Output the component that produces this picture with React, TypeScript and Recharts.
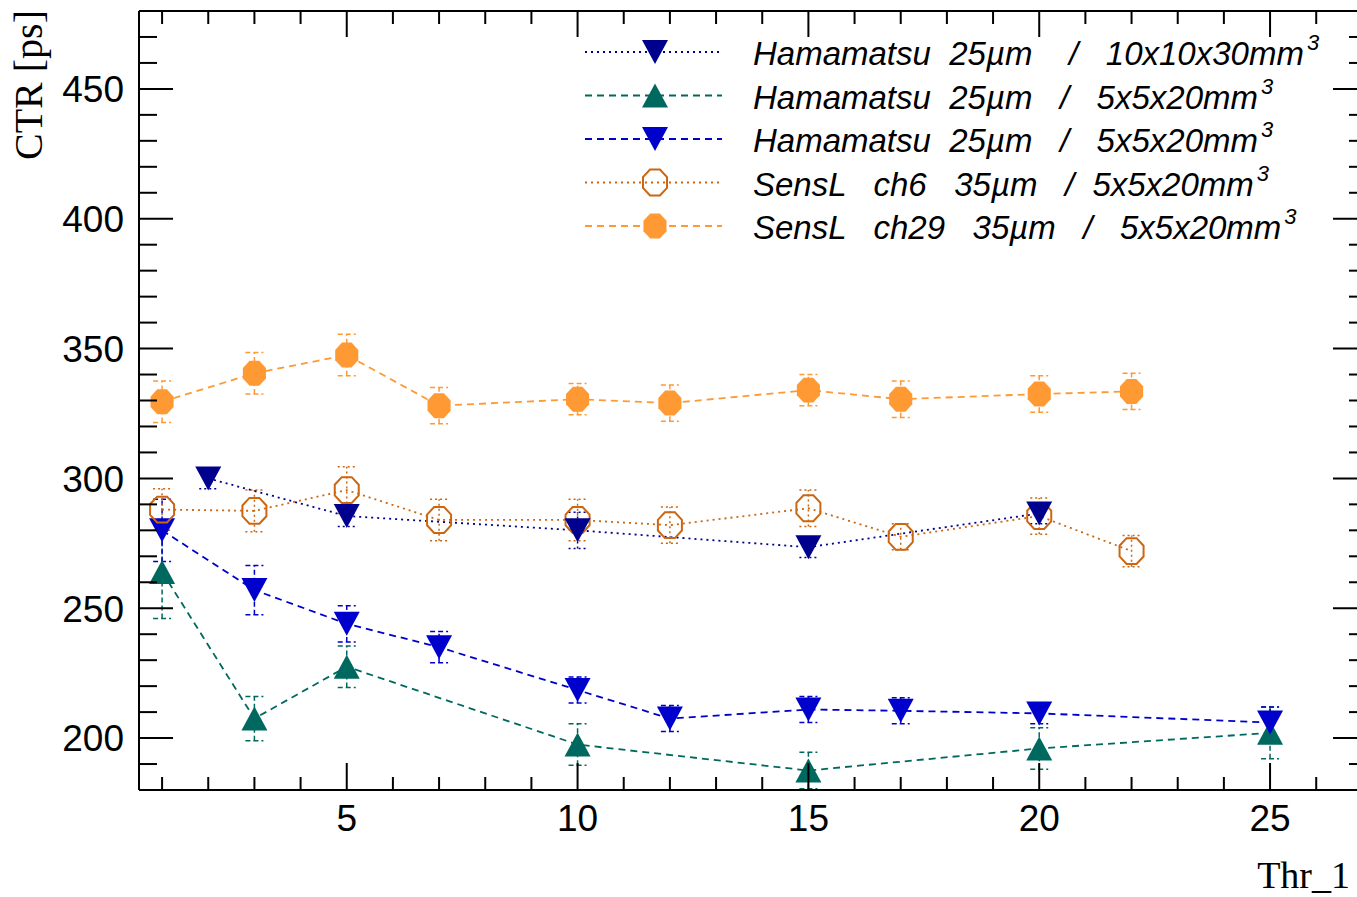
import { ErrorBar, Legend, Line, LineChart, XAxis, YAxis } from "recharts"

// axis ticks
const xTicks = [1, 2, 3, 4, 5, 6, 7, 8, 9, 10, 11, 12, 13, 14, 15, 16, 17, 18, 19, 20, 21, 22, 23, 24, 25, 26, 27]
const xLabels = [5, 10, 15, 20, 25]
const yTicks = [190, 200, 210, 220, 230, 240, 250, 260, 270, 280, 290, 300, 310, 320, 330, 340, 350, 360, 370, 380, 390, 400, 410, 420, 430, 440, 450, 460, 470]
const yLabels = [200, 250, 300, 350, 400, 450]

// Hamamatsu 25um / 10x10x30
const hamaBigThr = [2, 5, 10, 15, 20]
const hamaBigCtr = [300, 285.5, 280, 273.5, 286.5]
const hamaBigErr = [4, 4, 7, 4, 4]

// Hamamatsu 25um / 5x5x20 (teal)
const hamaTealThr = [1, 3, 5, 10, 15, 20, 25]
const hamaTealCtr = [264, 207.5, 227.5, 197.5, 187.5, 196, 202]
const hamaTealErr = [18, 8.5, 8, 8, 7, 8, 10]

// Hamamatsu 25um / 5x5x20 (blue)
const hamaBlueThr = [1, 3, 5, 7, 10, 12, 15, 17, 20, 25]
const hamaBlueCtr = [280, 257, 244, 235, 218.5, 207.5, 211, 210.5, 209.5, 206]
const hamaBlueErr = [12, 9.5, 7, 6, 5, 5, 5, 5, 4, 6]

// SensL ch6
const ch6Thr = [1, 3, 5, 7, 10, 12, 15, 17, 20, 22]
const ch6Ctr = [288, 287.5, 295.5, 284, 284, 282, 288.5, 277.5, 285.5, 272]
const ch6Err = [8, 8, 9, 8, 8, 7, 7, 5, 7, 6]

// SensL ch29
const ch29Thr = [1, 3, 5, 7, 10, 12, 15, 17, 20, 22]
const ch29Ctr = [329.5, 340.5, 347.5, 328, 330.5, 329, 334, 330.5, 332.5, 333.5]
const ch29Err = [8, 8, 8, 7, 6, 7, 6, 7, 7, 7]

const names = [
  "Hamamatsu  25µm    /   10x10x30mm³",
  "Hamamatsu  25µm   /   5x5x20mm³",
  "Hamamatsu  25µm   /   5x5x20mm³",
  "SensL   ch6   35µm   /  5x5x20mm³",
  "SensL   ch29   35µm   /   5x5x20mm³",
]

const pts = (xs: number[], ys: number[], es: number[]) => xs.map((x, i) => ({ x, y: ys[i], err: es[i] }))

type Marker = "down" | "up" | "open" | "full"

const series = [
  { name: names[0], color: "#00008f", dash: "2 4", marker: "down" as Marker, data: pts(hamaBigThr, hamaBigCtr, hamaBigErr) },
  { name: names[1], color: "#00695f", dash: "7 5", marker: "up" as Marker, data: pts(hamaTealThr, hamaTealCtr, hamaTealErr) },
  { name: names[2], color: "#0000cc", dash: "7 5", marker: "down" as Marker, data: pts(hamaBlueThr, hamaBlueCtr, hamaBlueErr) },
  { name: names[3], color: "#cc6611", dash: "2 4", marker: "open" as Marker, data: pts(ch6Thr, ch6Ctr, ch6Err) },
  { name: names[4], color: "#ff9933", dash: "7 5", marker: "full" as Marker, data: pts(ch29Thr, ch29Ctr, ch29Err) },
]

// draw order like the original (navy on top)
const drawOrder = [1, 2, 3, 4, 0]

const sans = "'Liberation Sans', Arial, sans-serif"
const serif = "'Liberation Serif', 'Times New Roman', serif"

function octagon(cx: number, cy: number, rx: number, ry: number) {
  const p: string[] = []
  for (let k = 0; k < 8; k++) {
    const a = (Math.PI / 8) * (2 * k + 1)
    p.push(`${cx + rx * Math.cos(a)},${cy + ry * Math.sin(a)}`)
  }
  return p.join(" ")
}

function MarkerShape({ cx, cy, type, color }: { cx: number; cy: number; type: Marker; color: string }) {
  if (cx == null || cy == null) return null
  if (type === "down")
    return <polygon points={`${cx - 13},${cy - 12} ${cx + 13},${cy - 12} ${cx},${cy + 12}`} fill={color} />
  if (type === "up")
    return <polygon points={`${cx - 13},${cy + 12} ${cx + 13},${cy + 12} ${cx},${cy - 12}`} fill={color} />
  if (type === "open")
    return <polygon points={octagon(cx, cy, 13, 14)} fill="none" stroke={color} strokeWidth={2} />
  return <polygon points={octagon(cx, cy, 12.5, 13.5)} fill={color} />
}

const LeftTick = (p: any) => {
  const v = p.payload.value
  const major = yLabels.includes(v)
  return (
    <g>
      <line x1={p.x} x2={p.x + (major ? 34 : 18)} y1={p.y} y2={p.y} stroke="#000" strokeWidth={2} />
      {major && (
        <text x={p.x - 15} y={p.y} dy="0.36em" textAnchor="end" fontSize={37} fontFamily={sans} fill="#000">
          {v}
        </text>
      )}
    </g>
  )
}

const RightTick = (p: any) => {
  const major = yLabels.includes(p.payload.value)
  return <line x1={p.x} x2={p.x - (major ? 34 : 18)} y1={p.y} y2={p.y} stroke="#000" strokeWidth={2} />
}

const BottomTick = (p: any) => {
  const v = p.payload.value
  const major = xLabels.includes(v)
  return (
    <g>
      <line x1={p.x} x2={p.x} y1={p.y} y2={p.y - (major ? 27 : 13)} stroke="#000" strokeWidth={2} />
      {major && (
        <text x={p.x} y={p.y + 41} textAnchor="middle" fontSize={37} fontFamily={sans} fill="#000">
          {v}
        </text>
      )}
    </g>
  )
}

const TopTick = (p: any) => {
  const major = xLabels.includes(p.payload.value)
  return <line x1={p.x} x2={p.x} y1={p.y} y2={p.y + (major ? 26 : 13)} stroke="#000" strokeWidth={2} />
}

const rowY = [52, 95.5, 139, 182.5, 226]

function LegendBox() {
  return (
    <svg width={1400} height={897} style={{ position: "absolute", left: 0, top: 0, pointerEvents: "none" }}>
      {series.map((s, i) => {
        const y = rowY[i]
        const base = s.name.endsWith("³") ? s.name.slice(0, -1) : s.name
        return (
          <g key={i}>
            <line x1={585} x2={722} y1={y} y2={y} stroke={s.color} strokeWidth={1.8} strokeDasharray={s.dash} />
            <MarkerShape cx={655} cy={y} type={s.marker} color={s.color} />
            <text x={753} y={y + 13} fontSize={33} fontStyle="italic" fontFamily={sans} fill="#000" xmlSpace="preserve" style={{ whiteSpace: "pre" }}>
              {base}
              {s.name.endsWith("³") && (
                <tspan dx={3} dy={-15} fontSize={22}>
                  3
                </tspan>
              )}
            </text>
          </g>
        )
      })}
    </svg>
  )
}

const axisProps = {
  type: "number" as const,
  allowDataOverflow: true,
  interval: 0 as const,
  tickSize: 0,
  tickMargin: 0,
  tickLine: false,
  axisLine: { stroke: "#000", strokeWidth: 2 },
}

export default function App() {
  return (
    <div style={{ position: "absolute", left: 0, top: 0, width: 1357, height: 897, overflow: "hidden", background: "#fff" }}>
      <LineChart width={1400} height={897} margin={{ top: 10, right: 32, bottom: 106, left: 138 }}>
        <XAxis {...axisProps} dataKey="x" domain={[0.5, 27.1]} ticks={xTicks} height={1} tick={BottomTick} />
        <XAxis {...axisProps} xAxisId="top" orientation="top" dataKey="x" domain={[0.5, 27.1]} ticks={xTicks} height={1} tick={TopTick} />
        <YAxis {...axisProps} domain={[180, 480]} ticks={yTicks} width={1} tick={LeftTick} />
        <YAxis {...axisProps} yAxisId="right" orientation="right" domain={[180, 480]} ticks={yTicks} width={1} tick={RightTick} />
        <Legend layout="horizontal" verticalAlign="middle" align="center" wrapperStyle={{ left: 0, top: 0, width: 1400, height: 897 }} content={() => <LegendBox />} />
        {drawOrder.map((i) => {
          const s = series[i]
          return (
            <Line
              key={i}
              data={s.data}
              dataKey="y"
              name={s.name}
              type="linear"
              stroke={s.color}
              strokeWidth={1.8}
              strokeDasharray={s.dash}
              activeDot={false}
              isAnimationActive={false}
              dot={(p: any) => <MarkerShape key={`${i}-${p.index}`} cx={p.cx} cy={p.cy} type={s.marker} color={s.color} />}
            >
              <ErrorBar dataKey="err" direction="y" width={9} stroke={s.color} strokeWidth={1.5} strokeDasharray={s.dash === "2 4" ? "2 3" : "5 3"} />
            </Line>
          )
        })}
        <text x={0} y={0} transform="translate(42, 10) rotate(-90)" textAnchor="end" fontSize={40} fontFamily={serif} fill="#000">
          CTR [ps]
        </text>
        <text x={1350} y={888} textAnchor="end" fontSize={38} fontFamily={serif} fill="#000">
          Thr_1
        </text>
      </LineChart>
    </div>
  )
}
